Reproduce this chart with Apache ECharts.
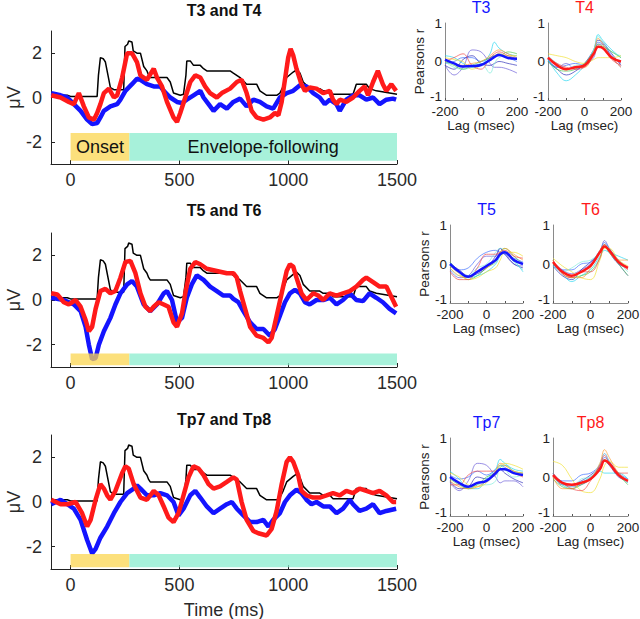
<!DOCTYPE html>
<html><head><meta charset="utf-8">
<script src="https://cdn.jsdelivr.net/npm/echarts@6/dist/echarts.min.js"></script>
<style>html,body{margin:0;padding:0;background:#fff}#c{width:640px;height:619px}</style>
</head><body><div id="c"></div>
<script>
// ---------- DATA ----------
const MAIN_TITLES = ['T3 and T4', 'T5 and T6', 'Tp7 and Tp8'];
const MAIN_X_TICKS = [0, 500, 1000, 1500];
const MAIN_Y_TICKS = [-2, 0, 2];
const PHASES = [{ name: 'Onset', start: 0, end: 270 }, { name: 'Envelope-following', start: 270, end: 1500 }];

// stimulus envelope (black), [time ms, µV]
const BLACK_ENV = [[-90,0.1],[-15,0.1],[0,0.05],[122,0.05],[128,1.0],[137,1.8],[150,1.75],[160,1.6],[183,0.45],[199,0.35],[244,0.35],[250,2.3],[262,2.4],[267,2.55],[282,2.5],[288,2.1],[305,2.0],[321,2.0],[336,1.4],[351,1.2],[359,1.0],[366,0.9],[443,0.9],[458,0.7],[473,0.2],[504,0.1],[519,0.15],[530,1.0],[534,1.65],[550,1.65],[565,1.45],[596,1.45],[611,1.3],[626,1.2],[733,1.2],[748,1.1],[779,0.9],[809,0.6],[855,0.6],[870,0.3],[901,0.1],[947,0.1],[962,0.2],[977,0.5],[993,0.9],[1023,1.15],[1038,1.25],[1054,1.1],[1069,0.7],[1099,0.4],[1145,0.4],[1161,0.3],[1191,0.3],[1206,0.15],[1298,0.15],[1313,0.6],[1359,0.6],[1374,0.4],[1405,0.3],[1500,0.15]];

const BLUE_T3 = [[-89,0.2],[-46,0.1],[-15,0.0],[15,-0.3],[46,-0.6],[76,-1.0],[99,-1.2],[122,-1.15],[137,-0.9],[153,-0.6],[183,-0.4],[214,-0.3],[229,-0.1],[252,0.3],[282,0.6],[305,0.85],[321,0.8],[351,0.6],[382,0.5],[412,0.5],[428,0.3],[458,0.0],[489,-0.2],[512,-0.25],[534,-0.1],[565,0.1],[596,0.3],[611,0.0],[634,-0.3],[657,-0.6],[687,-0.3],[718,-0.5],[748,-0.2],[779,-0.05],[809,-0.4],[840,-0.1],[870,-0.2],[901,-0.4],[931,-0.5],[962,0.0],[993,0.2],[1023,0.3],[1054,0.55],[1084,0.5],[1115,0.2],[1145,0.0],[1168,-0.3],[1191,-0.1],[1222,-0.3],[1237,-0.6],[1267,-0.1],[1298,0.1],[1328,0.1],[1359,-0.1],[1390,0.0],[1420,-0.3],[1451,-0.1],[1481,-0.05],[1496,-0.1]];
const RED_T4 = [[-89,0.1],[-46,0.0],[-8,-0.2],[15,-0.3],[38,0.2],[61,-0.4],[84,-0.9],[107,-1.0],[122,-0.7],[137,-0.3],[153,0.2],[176,0.4],[199,0.0],[214,0.1],[237,0.9],[260,2.0],[282,2.0],[305,1.6],[321,1.0],[351,0.8],[382,1.3],[397,0.9],[420,0.5],[443,-0.2],[473,-0.9],[489,-1.1],[504,-0.7],[527,0.0],[550,0.7],[573,1.0],[596,0.9],[618,0.5],[641,0.2],[672,0.0],[695,0.2],[733,0.4],[764,0.7],[786,0.8],[809,0.2],[832,-0.6],[855,-0.9],[886,-1.0],[916,-0.9],[939,-0.7],[955,-0.8],[970,-0.2],[985,0.8],[1000,1.8],[1011,2.2],[1023,1.9],[1038,1.3],[1061,0.6],[1077,0.3],[1099,0.45],[1130,0.4],[1161,0.2],[1191,0.3],[1206,-0.1],[1222,-0.3],[1237,-0.1],[1267,-0.2],[1298,0.0],[1328,0.3],[1351,0.5],[1367,0.1],[1390,0.7],[1412,1.2],[1435,0.6],[1451,0.3],[1474,0.6],[1496,0.3]];

const BLUE_T5 = [[-89,0.1],[-31,0.0],[15,-0.2],[46,-0.5],[69,-1.2],[84,-2.0],[99,-2.65],[115,-2.6],[130,-2.0],[153,-1.4],[183,-0.8],[206,-0.2],[229,0.3],[260,0.7],[282,0.85],[305,0.6],[336,-0.2],[366,-0.5],[397,-0.2],[428,0.3],[443,0.4],[466,0.0],[489,-1.0],[512,-0.8],[534,0.1],[557,0.7],[580,1.1],[611,0.9],[641,0.6],[672,0.4],[702,0.2],[733,0.2],[748,0.05],[771,-0.1],[794,-0.5],[825,-1.0],[855,-1.3],[886,-1.3],[916,-1.6],[939,-1.3],[962,-0.7],[985,-0.1],[1008,0.3],[1031,0.45],[1054,0.3],[1077,-0.1],[1099,-0.2],[1130,0.0],[1161,0.0],[1191,0.1],[1222,-0.2],[1252,0.0],[1283,0.3],[1313,0.0],[1344,-0.05],[1374,0.3],[1405,0.1],[1435,-0.1],[1466,-0.4],[1496,-0.6]];
const RED_T6 = [[-89,0.3],[-61,0.25],[-31,-0.1],[-8,-0.2],[23,0.0],[46,-0.3],[69,-0.9],[84,-1.4],[99,-1.2],[115,-0.4],[137,0.4],[160,0.5],[183,0.3],[206,0.4],[229,1.0],[252,1.7],[275,1.75],[298,1.2],[321,0.3],[344,-0.3],[366,-0.5],[382,-0.3],[405,-0.1],[428,-0.2],[450,-0.3],[473,-1.0],[489,-1.2],[512,-0.6],[527,0.3],[550,1.4],[573,1.7],[596,1.6],[626,1.4],[672,1.3],[718,1.2],[748,1.2],[764,1.0],[779,0.4],[802,-0.4],[825,-1.2],[855,-1.6],[886,-1.7],[909,-1.9],[924,-1.7],[947,-0.7],[970,0.3],[993,1.3],[1008,1.6],[1023,1.5],[1038,1.0],[1061,0.3],[1084,0.0],[1115,0.3],[1138,0.2],[1161,0.0],[1191,0.3],[1222,0.2],[1252,0.3],[1283,0.4],[1313,0.6],[1344,0.9],[1359,1.0],[1390,0.8],[1420,0.6],[1451,0.6],[1466,0.3],[1496,-0.3]];

const BLUE_TP7 = [[-89,-0.1],[-46,0.1],[-15,-0.1],[15,-0.3],[46,-0.8],[76,-1.7],[99,-2.3],[115,-2.1],[137,-1.6],[168,-1.1],[199,-0.5],[229,0.0],[260,0.4],[290,0.6],[305,0.75],[321,0.6],[351,0.3],[382,0.3],[412,0.4],[443,0.3],[473,0.0],[496,-0.6],[519,-0.3],[550,0.3],[573,0.5],[596,0.2],[626,-0.2],[657,-0.5],[687,-0.3],[718,-0.1],[741,0.0],[764,-0.3],[794,-0.6],[825,-0.9],[855,-0.9],[886,-0.8],[909,-1.1],[931,-0.8],[962,-0.5],[985,0.0],[1008,0.3],[1038,0.55],[1061,0.4],[1084,0.1],[1107,-0.1],[1130,0.0],[1161,-0.2],[1191,-0.2],[1222,-0.5],[1252,-0.3],[1283,0.1],[1298,-0.1],[1328,-0.4],[1359,-0.3],[1390,-0.1],[1420,-0.5],[1451,-0.4],[1496,-0.3]];
const RED_TP8 = [[-89,0.1],[-46,-0.1],[-15,-0.1],[23,0.0],[53,-0.5],[76,-1.1],[92,-0.8],[115,0.1],[137,0.8],[153,0.6],[168,0.3],[183,0.1],[206,0.5],[237,1.3],[252,1.6],[267,1.5],[290,0.8],[321,0.2],[351,0.1],[382,0.5],[405,0.3],[428,-0.2],[450,-0.7],[473,-0.9],[496,-0.5],[519,0.3],[542,1.1],[565,1.6],[588,1.5],[611,1.2],[634,0.8],[657,0.6],[687,0.7],[718,0.9],[748,1.1],[764,1.0],[786,0.0],[809,-0.8],[840,-1.3],[863,-1.4],[901,-1.5],[924,-1.2],[947,-0.4],[970,0.8],[993,1.8],[1008,2.0],[1023,1.8],[1046,1.2],[1061,0.5],[1084,0.3],[1115,0.2],[1145,0.2],[1176,0.3],[1206,0.4],[1237,0.3],[1267,0.5],[1298,0.4],[1328,0.6],[1359,0.5],[1390,0.4],[1420,0.5],[1451,0.3],[1481,0.0],[1496,0.0]];

// cross-correlation panels
const SMALL_TITLES = ['T3', 'T4', 'T5', 'T6', 'Tp7', 'Tp8'];
const LAG = [-200, -150, -100, -50, 0, 50, 75, 100, 150, 200];
const LAG_LABELS = [-200, 0, 200];
const LAG_TICKS = [-200, -100, 0, 100, 200];
const R_TICKS = [-1, 0, 1];

const MEAN_T3 = [0.05,-0.05,-0.13,-0.12,-0.09,0.04,0.12,0.17,0.09,0.07];
const THIN_T3 = [
  [-0.1,-0.35,-0.15,0.3,0.25,-0.05,-0.15,-0.15,-0.2,-0.3],
  [-0.05,0.0,0.1,0.1,0.0,0.1,0.15,0.2,0.1,0.0],
  [-0.1,-0.2,0.05,0.15,-0.05,-0.1,-0.05,0.0,-0.05,-0.1],
  [0.15,0.1,-0.05,-0.15,-0.1,0.2,0.5,0.35,0.2,0.15],
  [0.0,-0.15,-0.2,-0.15,-0.05,-0.3,-0.05,0.1,0.15,0.05],
  [0.0,-0.1,-0.2,-0.1,0.0,0.1,0.15,0.15,0.25,0.2],
  [0.1,0.05,0.0,-0.2,-0.1,0.05,0.15,0.2,0.15,0.15],
  [0.05,-0.05,-0.1,-0.05,0.0,0.15,0.25,0.3,0.2,0.1],
  [0.0,0.1,0.2,-0.1,-0.2,0.1,0.2,0.25,0.15,0.05]];
const MEAN_T4 = [0.1,-0.1,-0.2,-0.15,-0.1,0.2,0.38,0.35,0.1,0.0];
const THIN_T4 = [
  [0.05,-0.15,-0.05,-0.2,-0.1,0.1,0.45,0.45,0.1,-0.15],
  [0.05,-0.15,-0.1,-0.05,-0.1,0.2,0.5,0.45,0.15,-0.05],
  [0.0,-0.2,-0.35,-0.25,-0.05,0.3,0.55,0.5,0.2,-0.1],
  [0.05,-0.3,-0.5,-0.35,-0.1,0.3,0.7,0.55,0.3,0.1],
  [0.15,-0.05,-0.2,-0.1,-0.05,0.3,0.65,0.5,0.25,0.15],
  [0.0,-0.2,-0.25,-0.2,-0.05,0.25,0.45,0.4,0.25,0.1],
  [0.2,0.15,0.1,0.0,-0.05,0.05,0.1,0.1,0.1,0.15],
  [0.1,-0.1,-0.2,-0.15,-0.15,0.25,0.6,0.45,0.1,-0.15],
  [0.1,-0.05,-0.15,-0.2,-0.15,0.15,0.4,0.35,0.05,-0.1]];
const MEAN_T5 = [0.0,-0.2,-0.33,-0.2,-0.05,0.1,0.25,0.3,0.1,0.0];
const THIN_T5 = [
  [-0.15,-0.35,-0.3,0.0,0.2,0.2,0.4,0.3,0.0,-0.05],
  [0.05,-0.15,-0.1,0.15,0.3,0.35,0.3,0.25,0.15,0.05],
  [0.0,-0.15,-0.3,-0.25,-0.1,0.2,0.4,0.25,0.0,-0.1],
  [-0.05,-0.2,-0.35,-0.3,-0.2,0.0,0.2,0.3,0.1,-0.2],
  [-0.1,-0.3,-0.3,-0.1,0.0,0.3,0.4,0.35,0.05,-0.15],
  [0.05,-0.2,-0.4,-0.3,-0.1,0.05,0.3,0.4,0.2,0.0],
  [-0.05,-0.25,-0.4,-0.35,-0.2,-0.1,0.1,0.3,0.3,0.2],
  [-0.1,-0.3,-0.35,-0.2,-0.1,0.1,0.3,0.4,0.25,0.1],
  [-0.2,-0.4,-0.4,-0.1,0.25,0.25,0.3,0.35,0.2,0.15]];
const MEAN_T6 = [0.05,-0.2,-0.3,-0.2,-0.05,0.3,0.45,0.35,0.05,-0.1];
const THIN_T6 = [
  [0.05,-0.15,-0.25,-0.15,0.0,0.3,0.6,0.4,0.0,-0.3],
  [-0.05,-0.15,-0.15,0.0,0.05,0.35,0.55,0.4,0.1,-0.1],
  [-0.05,-0.3,-0.4,-0.15,0.05,0.3,0.5,0.3,0.0,-0.1],
  [0.0,-0.25,-0.45,-0.3,-0.15,0.2,0.35,0.3,0.2,0.1],
  [-0.05,-0.2,-0.1,0.05,0.1,0.3,0.5,0.4,0.05,-0.2],
  [0.0,-0.2,-0.35,-0.3,-0.2,0.15,0.45,0.3,0.0,-0.3],
  [0.15,-0.05,-0.2,-0.35,-0.4,0.1,0.4,0.4,0.1,-0.05],
  [0.1,-0.25,-0.35,-0.35,-0.1,0.35,0.5,0.3,0.1,0.1],
  [0.1,-0.25,-0.35,-0.2,-0.2,0.15,0.5,0.35,0.05,-0.15]];
const MEAN_TP7 = [0.0,-0.15,-0.25,-0.15,-0.1,0.1,0.2,0.2,0.1,0.05];
const THIN_TP7 = [
  [-0.15,-0.35,-0.1,0.35,0.3,0.0,-0.15,-0.1,-0.1,-0.25],
  [0.05,-0.05,0.0,0.15,0.05,0.2,0.3,0.25,0.1,0.05],
  [-0.1,-0.3,-0.25,0.0,-0.05,0.05,0.2,0.1,-0.05,-0.15],
  [0.15,-0.05,-0.3,-0.3,-0.05,0.2,0.45,0.35,0.2,0.15],
  [0.0,-0.15,-0.3,-0.2,-0.2,-0.1,0.3,0.2,0.0,0.05],
  [-0.05,-0.2,-0.3,-0.2,0.0,0.1,0.25,0.3,0.15,0.1],
  [0.1,0.0,-0.2,-0.25,-0.15,0.15,0.3,0.35,0.3,0.2],
  [-0.1,-0.25,-0.3,-0.25,-0.1,0.15,0.35,0.3,0.15,0.1],
  [-0.2,-0.2,0.05,0.15,0.15,0.15,0.2,0.2,0.1,0.0]];
const MEAN_TP8 = [0.05,-0.15,-0.2,-0.15,-0.05,0.2,0.42,0.35,0.05,-0.1];
const THIN_TP8 = [
  [0.05,-0.15,-0.25,-0.2,-0.05,0.3,0.6,0.4,0.05,-0.15],
  [0.1,-0.1,-0.1,0.05,0.1,0.3,0.5,0.4,0.1,-0.05],
  [0.05,-0.2,-0.2,-0.1,0.05,0.25,0.4,0.3,0.0,-0.1],
  [0.1,-0.2,-0.3,-0.15,0.0,0.15,0.1,0.1,0.1,-0.05],
  [0.0,-0.2,-0.25,-0.05,0.0,0.35,0.6,0.4,0.05,-0.15],
  [-0.05,-0.25,-0.3,-0.2,-0.05,0.2,0.45,0.35,0.05,-0.2],
  [0.4,0.3,-0.05,-0.35,-0.4,-0.05,0.3,0.4,0.25,0.25],
  [0.0,-0.3,-0.3,-0.15,-0.05,0.35,0.7,0.5,0.1,-0.1],
  [0.1,-0.15,-0.3,-0.35,-0.1,0.3,0.55,0.35,0.1,0.1]];

// ---------- LAYOUT / STYLE ----------
const FONT = 'Arial, "Liberation Sans", sans-serif';
const BLUE = '#1414ff', RED = '#ff1a1a';
const THIN_COLORS = ['#6a5ad8', '#3a6cff', '#2a2ab8', '#20d6f0', '#80ecdc', '#50c850', '#f0e030', '#ff9a30', '#f04848'];
const PHASE_FILL = ['rgba(251,214,80,0.75)', 'rgba(137,236,206,0.75)'];
const MAIN_GRIDS = [
  { left: 51, top: 31, width: 346, height: 133 },
  { left: 51, top: 233, width: 346, height: 134 },
  { left: 51, top: 435, width: 346, height: 134 }];
const MAIN_TITLE_Y = [10, 210, 419];
const BAR_Y = [[-1.6, -2.85], [-2.4, -2.92], [-2.33, -2.92]];
const SMALL_GRIDS = [
  { left: 445, top: 23, width: 72, height: 77 },
  { left: 548, top: 23, width: 73, height: 77 },
  { left: 450, top: 225, width: 73, height: 78 },
  { left: 553, top: 225, width: 75, height: 78 },
  { left: 450, top: 438, width: 73, height: 78 },
  { left: 553, top: 438, width: 75, height: 78 }];

const mainPanels = [
  { blue: BLUE_T3, red: RED_T4 },
  { blue: BLUE_T5, red: RED_T6 },
  { blue: BLUE_TP7, red: RED_TP8 }];
const smallPanels = [
  { mean: MEAN_T3, thin: THIN_T3, color: BLUE },
  { mean: MEAN_T4, thin: THIN_T4, color: RED },
  { mean: MEAN_T5, thin: THIN_T5, color: BLUE },
  { mean: MEAN_T6, thin: THIN_T6, color: RED },
  { mean: MEAN_TP7, thin: THIN_TP7, color: BLUE },
  { mean: MEAN_TP8, thin: THIN_TP8, color: RED }];

const plain = v => String(v);
const grid = [], xAxis = [], yAxis = [], series = [], graphic = [];

mainPanels.forEach((p, i) => {
  grid.push(Object.assign({ outerBoundsMode: 'none', containLabel: false }, MAIN_GRIDS[i]));
  xAxis.push({
    type: 'value', gridIndex: i, min: -90, max: 1500,
    axisLine: { show: true, onZero: false, lineStyle: { color: '#222', width: 1 } },
    axisTick: { show: true, inside: true, length: 4, customValues: MAIN_X_TICKS, lineStyle: { color: '#222' } },
    axisLabel: { customValues: MAIN_X_TICKS, formatter: plain, color: '#2a2a2a', fontSize: 18, fontFamily: FONT, margin: 7 },
    splitLine: { show: false },
    name: i === 2 ? 'Time (ms)' : '', nameLocation: 'middle', nameGap: 32, nameMoveOverlap: false,
    nameTextStyle: { fontSize: 18, fontFamily: FONT, color: '#2a2a2a' }
  });
  yAxis.push({
    type: 'value', gridIndex: i, min: -3, max: 3,
    axisLine: { show: true, onZero: false, lineStyle: { color: '#222', width: 1 } },
    axisTick: { show: true, inside: true, length: 4, customValues: MAIN_Y_TICKS, lineStyle: { color: '#222' } },
    axisLabel: { customValues: MAIN_Y_TICKS, formatter: plain, color: '#2a2a2a', fontSize: 18, fontFamily: FONT, margin: 9 },
    splitLine: { show: false },
    name: 'μV', nameLocation: 'middle', nameGap: 28, nameMoveOverlap: false,
    nameTextStyle: { fontSize: 18, fontFamily: FONT, color: '#2a2a2a' }
  });
  series.push({ type: 'line', xAxisIndex: i, yAxisIndex: i, data: BLACK_ENV, symbol: 'none', z: 2,
    lineStyle: { color: '#000', width: 1.5 }, animation: false });
  series.push({ type: 'line', xAxisIndex: i, yAxisIndex: i, data: p.blue, symbol: 'none', z: 3,
    lineStyle: { color: BLUE, width: 4.5, join: 'bevel' }, animation: false });
  series.push({ type: 'line', xAxisIndex: i, yAxisIndex: i, data: p.red, symbol: 'none', z: 4,
    lineStyle: { color: RED, width: 4.5, join: 'bevel' }, animation: false });
  const yr = BAR_Y[i];
  series.push({
    type: 'custom', xAxisIndex: i, yAxisIndex: i, z: 6, animation: false, silent: true,
    data: PHASES.map(ph => [ph.start, ph.end, 0]),
    encode: { x: [0, 1], y: 2 },
    renderItem: (params, api) => {
      const k = params.dataIndex;
      const p0 = api.coord([api.value(0), yr[0]]);
      const p1 = api.coord([api.value(1), yr[1]]);
      const children = [{ type: 'rect', shape: { x: p0[0], y: p0[1], width: p1[0] - p0[0], height: p1[1] - p0[1] },
        style: { fill: PHASE_FILL[k] } }];
      if (i === 0) {
        children.push({ type: 'text', style: { text: PHASES[k].name, x: (p0[0] + p1[0]) / 2, y: (p0[1] + p1[1]) / 2,
          align: 'center', verticalAlign: 'middle', textAlign: 'center', textVerticalAlign: 'middle',
          font: '18px ' + FONT, fill: '#111' } });
      }
      return { type: 'group', children };
    }
  });
  graphic.push({ type: 'text', x: MAIN_GRIDS[i].left + MAIN_GRIDS[i].width / 2, y: MAIN_TITLE_Y[i],
    style: { text: MAIN_TITLES[i], font: 'bold 16px ' + FONT, fill: '#111', textAlign: 'center', textVerticalAlign: 'middle' } });
});

smallPanels.forEach((p, j) => {
  const gi = 3 + j;
  const g = SMALL_GRIDS[j];
  grid.push(Object.assign({ outerBoundsMode: 'none', containLabel: false }, g));
  xAxis.push({
    type: 'value', gridIndex: gi, min: -200, max: 200,
    axisLine: { show: true, onZero: false, lineStyle: { color: '#8a8a8a', width: 1 } },
    axisTick: { show: true, inside: true, length: 2, customValues: LAG_TICKS, lineStyle: { color: '#555' } },
    axisLabel: { customValues: LAG_LABELS, formatter: plain, color: '#222', fontSize: 13.5, fontFamily: FONT, margin: 4 },
    splitLine: { show: false },
    name: 'Lag (msec)', nameLocation: 'middle', nameGap: 18, nameMoveOverlap: false,
    nameTextStyle: { fontSize: 13.5, fontFamily: FONT, color: '#222' }
  });
  yAxis.push({
    type: 'value', gridIndex: gi, min: -1, max: 1, interval: 1,
    axisLine: { show: true, onZero: false, lineStyle: { color: '#8a8a8a', width: 1 } },
    axisTick: { show: false },
    axisLabel: { customValues: R_TICKS, formatter: v => (v === -1 ? '{lo|-1}' : String(v)),
      rich: { lo: { fontSize: 13.5, fontFamily: FONT, color: '#222', lineHeight: 13, padding: [0, 0, 7, 0] } },
      color: '#222', fontSize: 13.5, fontFamily: FONT, margin: 3 },
    splitLine: { show: false },
    name: j % 2 === 0 ? 'Pearsons r' : '', nameLocation: 'middle', nameGap: 19, nameMoveOverlap: false,
    nameTextStyle: { fontSize: 13.5, fontFamily: FONT, color: '#222' }
  });
  p.thin.forEach((vals, k) => {
    series.push({ type: 'line', xAxisIndex: gi, yAxisIndex: gi, smooth: 0.4, symbol: 'none', animation: false,
      data: LAG.map((x, n) => [x, vals[n]]), lineStyle: { color: THIN_COLORS[k], width: 0.8, opacity: 0.85 } });
  });
  series.push({ type: 'line', xAxisIndex: gi, yAxisIndex: gi, smooth: 0.4, symbol: 'none', animation: false, z: 5,
    data: LAG.map((x, n) => [x, p.mean[n]]), lineStyle: { color: p.color, width: 2.5 } });
  graphic.push({ type: 'text', x: g.left + g.width / 2, y: g.top - 16,
    style: { text: SMALL_TITLES[j], font: '16px ' + FONT, fill: p.color, textAlign: 'center', textVerticalAlign: 'middle' } });
});

const chart = echarts.init(document.getElementById('c'), null, { renderer: 'svg', width: 640, height: 619 });
chart.setOption({ backgroundColor: '#fff', animation: false, grid, xAxis, yAxis, series, graphic });
</script></body></html>
